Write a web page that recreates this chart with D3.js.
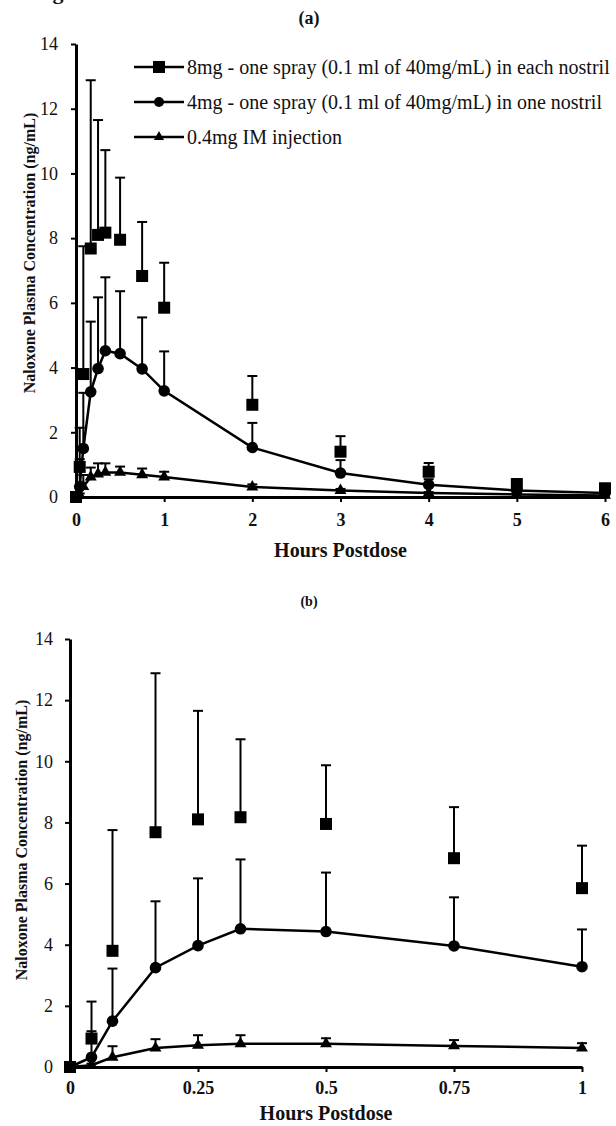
<!DOCTYPE html>
<html>
<head>
<meta charset="utf-8">
<script src="https://cdn.jsdelivr.net/npm/d3@7"></script>
<style>
  body { margin: 0; background: #fff; }
  svg { display: block; }
  text { font-family: "Liberation Serif", "Times New Roman", serif; fill: #111; }
</style>
</head>
<body>
<svg id="chart" width="616" height="1126"></svg>
<script>
// hours postdose
var times = [0, 0.042, 0.083, 0.167, 0.25, 0.333, 0.5, 0.75, 1, 2, 3, 4, 5, 6];

// 8mg - two sprays
var sqMean = [0, 0.93, 3.8, 7.68, 8.1, 8.17, 7.95, 6.83, 5.85, 2.85, 1.4, 0.78, 0.4, 0.27];
var sqSd   = [0, 1.21, 3.95, 5.2, 3.55, 2.55, 1.92, 1.67, 1.39, 0.89, 0.48, 0.27, 0.15, 0.06];
// 4mg - one spray
var ciMean = [0, 0.32, 1.5, 3.25, 3.97, 4.52, 4.43, 3.96, 3.28, 1.53, 0.74, 0.38, 0.2, 0.12];
var ciSd   = [0, 0.85, 1.72, 2.17, 2.2, 2.27, 1.93, 1.59, 1.22, 0.76, 0.4, 0.17, 0.1, 0.06];
// 0.4mg IM
var trMean = [0, 0.06, 0.32, 0.62, 0.71, 0.76, 0.76, 0.69, 0.62, 0.31, 0.2, 0.12, 0.08, 0.05];
var trSd   = [0, 0.05, 0.36, 0.29, 0.33, 0.28, 0.18, 0.19, 0.16, 0.08, 0.05, 0.03, 0.02, 0.02];

var legendLabels = [
  "8mg - one spray (0.1 ml of 40mg/mL) in each nostril",
  "4mg - one spray (0.1 ml of 40mg/mL) in one nostril",
  "0.4mg IM injection"
];
var yTicks = [0, 2, 4, 6, 8, 10, 12, 14];
var xTicksA = [0, 1, 2, 3, 4, 5, 6];
var xTicksB = [0, 0.25, 0.5, 0.75, 1];

var series = [
  {mean: sqMean, sd: sqSd, shape: "square", line: false},
  {mean: ciMean, sd: ciSd, shape: "circle", line: true},
  {mean: trMean, sd: trSd, shape: "triangle", line: true}
];

var svg = d3.select("#chart");

// cut-off caption at the top edge
svg.append("text").attr("x", 33).attr("y", -1)
  .style("font-size", "22px").style("font-weight", "bold").text("Figure");

function marker(sel, shape) {
  if (shape === "square") {
    sel.append("rect").attr("x", -6).attr("y", -6).attr("width", 12).attr("height", 12).attr("fill", "#000");
  } else if (shape === "circle") {
    sel.append("circle").attr("r", 5.8).attr("fill", "#000");
  } else {
    sel.append("path").attr("d", d3.symbol(d3.symbolTriangle, 62)()).attr("fill", "#000");
  }
}

function panel(opt) {
  var x = d3.scaleLinear().domain(opt.xDomain).range(opt.xRange);
  var y = d3.scaleLinear().domain([0, 14]).range(opt.yRange);
  var g = svg.append("g");
  var keep = times.map(function(t, i){ return t <= opt.xDomain[1] ? i : -1; }).filter(function(i){ return i >= 0; });

  // x axis
  var xa = g.append("g").attr("transform", "translate(0," + opt.yRange[0] + ")")
    .call(d3.axisBottom(x).tickValues(opt.xTicks).tickSize(5).tickSizeOuter(0).tickPadding(opt.xPad)
      .tickFormat(function(d){ return d3.format("")(d); }));
  xa.selectAll("text").style("font-size", "18px").style("font-weight", "bold").attr("fill", "#111");

  // y axis
  var ya = g.append("g").attr("transform", "translate(" + opt.xRange[0] + ",0)")
    .call(d3.axisLeft(y).tickValues(yTicks).tickSize(5).tickSizeOuter(0).tickPadding(opt.yPad));
  ya.selectAll("text").style("font-size", "18px").attr("fill", "#222");

  g.selectAll(".domain").attr("stroke", "#000").attr("stroke-width", 3);
  g.selectAll(".tick line").attr("stroke", "#000").attr("stroke-width", 2);

  series.forEach(function(s) {
    var pts = keep.map(function(i){ return {t: times[i], m: s.mean[i], sd: s.sd[i]}; });
    if (s.line) {
      g.append("path").datum(pts)
        .attr("d", d3.line().x(function(d){ return x(d.t); }).y(function(d){ return y(d.m); }))
        .attr("fill", "none").attr("stroke", "#000").attr("stroke-width", 2.5);
    }
    var eb = g.append("g");
    pts.filter(function(d){ return d.sd > 0; }).forEach(function(d) {
      eb.append("line").attr("x1", x(d.t)).attr("x2", x(d.t))
        .attr("y1", y(d.m)).attr("y2", y(d.m + d.sd))
        .attr("stroke", "#000").attr("stroke-width", 2);
      eb.append("line").attr("x1", x(d.t) - 5).attr("x2", x(d.t) + 5)
        .attr("y1", y(d.m + d.sd)).attr("y2", y(d.m + d.sd))
        .attr("stroke", "#000").attr("stroke-width", 2);
    });
    g.append("g").selectAll("g").data(pts).enter().append("g")
      .attr("transform", function(d){ return "translate(" + x(d.t) + "," + y(d.m) + ")"; })
      .each(function(){ marker(d3.select(this), s.shape); });
  });

  // titles
  svg.append("text").attr("x", opt.titleX).attr("y", opt.titleY).attr("text-anchor", "middle")
    .style("font-size", opt.titleSize).style("font-weight", "bold").text(opt.title);
  svg.append("text").attr("x", (opt.xRange[0] + opt.xRange[1]) / 2).attr("y", opt.xLabelY)
    .attr("text-anchor", "middle").style("font-size", "20px").style("font-weight", "bold")
    .text("Hours Postdose");
  svg.append("text")
    .attr("transform", "translate(" + opt.yLabelX + "," + opt.yLabelY + ") rotate(-90)")
    .attr("text-anchor", "middle").style("font-size", "16px").style("font-weight", "bold")
    .text("Naloxone Plasma Concentration (ng/mL)");
}

panel({xDomain: [0, 6], xRange: [76, 605], yRange: [497, 44], xTicks: xTicksA,
  xPad: 11, yPad: 13, title: "(a)", titleX: 309, titleY: 24, titleSize: "18px",
  xLabelY: 557, yLabelX: 35, yLabelY: 253});

panel({xDomain: [0, 1], xRange: [70, 582], yRange: [1067, 639], xTicks: xTicksB,
  xPad: 9, yPad: 12, title: "(b)", titleX: 309, titleY: 606, titleSize: "14px",
  xLabelY: 1120, yLabelX: 27, yLabelY: 840});

// legend
var leg = svg.append("g");
legendLabels.forEach(function(lab, i) {
  var cy = 67 + i * 35;
  leg.append("line").attr("x1", 134).attr("x2", 184).attr("y1", cy).attr("y2", cy)
    .attr("stroke", "#000").attr("stroke-width", 2.5);
  var m = leg.append("g").attr("transform", "translate(159," + cy + ")");
  marker(m, series[i].shape);
  if (i === 1) m.select("circle").attr("r", 5);
  if (i === 2) m.select("path").attr("d", d3.symbol(d3.symbolTriangle, 45)());
  leg.append("text").attr("x", 187).attr("y", cy + 7).style("font-size", "20px").text(lab);
});
</script>
</body>
</html>
